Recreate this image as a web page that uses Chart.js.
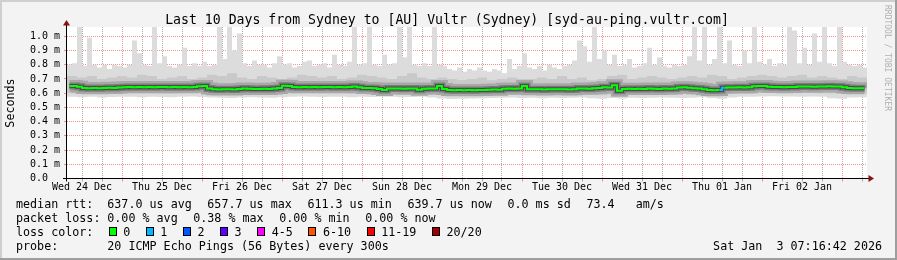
<!DOCTYPE html>
<html>
<head>
<meta charset="utf-8">
<script src="https://cdn.jsdelivr.net/npm/chart.js@4/dist/chart.umd.min.js"></script>
<style>
    html, body { margin: 0; padding: 0; background: #f3f3f3; }
    canvas { display: block; }
</style>
</head>
<body>
<canvas id="smoke" width="897" height="260"></canvas>
<script>
'use strict';

/**
 * Data (hours counted from Wed 24 Dec 00:00)
 */

const firstHour = 7.5,
    lastHour = 247.5,
    colStep = 1.5,
    bandStep = 3;

const dayLabels = ['Wed 24 Dec', 'Thu 25 Dec', 'Fri 26 Dec', 'Sat 27 Dec', 'Sun 28 Dec',
    'Mon 29 Dec', 'Tue 30 Dec', 'Wed 31 Dec', 'Thu 01 Jan', 'Fri 02 Jan'];

const yTicks = [0, 0.1, 0.2, 0.3, 0.4, 0.5, 0.6, 0.7, 0.8, 0.9, 1.0];

// slowest ping of each column (ms)
const maxPing = [
    0.80, 0.81, 1.07, 0.79, 0.99, 0.80, 0.78, 0.80, 0.77, 0.80, 0.79,
    0.78, 0.80, 0.97, 0.88, 0.80, 0.79, 1.07, 0.81, 0.86, 0.79, 0.78, 0.80, 0.92, 0.79, 0.81, 0.79,
    0.82, 0.79, 0.80, 1.07, 0.84, 1.07, 0.90, 1.02, 0.81, 0.79, 0.83, 0.80, 0.80, 0.78, 0.81, 0.86,
    0.80, 0.81, 0.78, 0.79, 0.82, 0.83, 0.79, 0.80, 0.81, 0.78, 0.87, 0.80, 0.79, 0.82, 1.07, 0.80,
    0.81, 1.07, 0.80, 0.79, 0.87, 0.80, 0.81, 1.07, 0.85, 1.07, 0.80, 0.79, 0.81, 0.79, 1.07, 0.80,
    0.79, 0.77, 0.76, 0.78, 0.75, 0.77, 0.76, 0.78, 0.76, 0.75, 0.77, 0.76, 0.74, 0.84, 0.77, 0.79,
    0.88, 0.78, 0.77, 0.79, 0.76, 0.80, 0.78, 0.77, 0.79, 0.80, 0.83, 0.97, 0.93, 0.82, 1.07, 0.84,
    0.90, 0.80, 0.87, 0.79, 0.80, 0.84, 0.78, 0.79, 0.81, 0.92, 0.80, 0.85, 0.79, 0.78, 0.80, 0.79,
    0.80, 0.86, 1.07, 0.83, 1.07, 0.80, 0.84, 1.07, 0.81, 0.97, 0.80, 0.79, 0.90, 0.81, 1.07, 0.82,
    0.80, 0.84, 0.79, 0.81, 0.80, 1.07, 1.04, 0.81, 0.92, 0.80, 1.02, 0.82, 1.07, 0.81, 0.79, 1.07,
    0.82, 0.80, 0.79, 0.80, 0.78
];

// median rtt of each column (ms)
const medianRtt = [
    0.650, 0.650, 0.645, 0.636, 0.634, 0.636, 0.634, 0.636, 0.638, 0.636, 0.640,
    0.642, 0.643, 0.641, 0.643, 0.642, 0.643, 0.641, 0.643, 0.644, 0.642, 0.643, 0.641, 0.643, 0.642, 0.644, 0.648,
    0.650, 0.632, 0.627, 0.626, 0.627, 0.628, 0.626, 0.630, 0.632, 0.631, 0.630, 0.629, 0.631, 0.630, 0.632, 0.636,
    0.652, 0.650, 0.644, 0.642, 0.643, 0.641, 0.643, 0.642, 0.643, 0.644, 0.642, 0.643, 0.641, 0.644, 0.646, 0.642,
    0.637, 0.636, 0.635, 0.630, 0.623, 0.633, 0.632, 0.633, 0.631, 0.632, 0.633, 0.624, 0.631, 0.632, 0.633, 0.650,
    0.630, 0.622, 0.621, 0.622, 0.620, 0.622, 0.621, 0.622, 0.623, 0.624, 0.625, 0.624, 0.631, 0.632, 0.631, 0.632,
    0.650, 0.627, 0.628, 0.627, 0.626, 0.628, 0.627, 0.628, 0.627, 0.626, 0.628, 0.632, 0.633, 0.631, 0.634, 0.636,
    0.642, 0.640, 0.655, 0.617, 0.630, 0.631, 0.629, 0.631, 0.630, 0.632, 0.631, 0.630, 0.632, 0.631, 0.633, 0.640,
    0.641, 0.638, 0.634, 0.633, 0.628, 0.622, 0.621, 0.623, 0.638, 0.640, 0.639, 0.641, 0.640, 0.642, 0.648, 0.650,
    0.650, 0.645, 0.643, 0.644, 0.642, 0.643, 0.644, 0.647, 0.646, 0.647, 0.645, 0.646, 0.647, 0.648, 0.646, 0.647,
    0.641, 0.636, 0.634, 0.635, 0.634
];

// upper / lower edge of the dense smoke, and fastest ping (3 h bands, ms)
const bandTop = [
    0.72, 0.71, 0.72, 0.70, 0.71, 0.72, 0.71, 0.73, 0.72, 0.70, 0.71, 0.72, 0.70, 0.71,
    0.73, 0.72, 0.74, 0.71, 0.70, 0.72, 0.71, 0.70, 0.71, 0.73, 0.72, 0.71, 0.72, 0.70,
    0.71, 0.73, 0.72, 0.71, 0.70, 0.72, 0.74, 0.71, 0.70, 0.71, 0.70, 0.69, 0.70, 0.71,
    0.69, 0.70, 0.71, 0.70, 0.70, 0.71, 0.70, 0.72, 0.70, 0.71, 0.69, 0.70, 0.72, 0.73,
    0.70, 0.71, 0.72, 0.71, 0.70, 0.71, 0.72, 0.71, 0.73, 0.72, 0.70, 0.71, 0.72, 0.73,
    0.72, 0.71, 0.72, 0.73, 0.71, 0.72, 0.71, 0.70, 0.72, 0.71
];

const bandLow = [
    0.600, 0.598, 0.600, 0.597, 0.599, 0.600, 0.601, 0.599, 0.600, 0.598, 0.597, 0.600, 0.601, 0.599,
    0.592, 0.590, 0.589, 0.591, 0.592, 0.590, 0.591, 0.595, 0.600, 0.602, 0.601, 0.599, 0.600, 0.601,
    0.598, 0.600, 0.596, 0.597, 0.596, 0.594, 0.595, 0.596, 0.593, 0.588, 0.584, 0.585, 0.586, 0.587,
    0.586, 0.588, 0.590, 0.589, 0.590, 0.589, 0.591, 0.590, 0.589, 0.591, 0.590, 0.586, 0.590, 0.588,
    0.592, 0.591, 0.592, 0.593, 0.592, 0.594, 0.595, 0.593, 0.588, 0.586, 0.595, 0.599, 0.600, 0.602,
    0.603, 0.602, 0.603, 0.601, 0.602, 0.600, 0.597, 0.595, 0.598, 0.597
];

const minPing = [
    0.575, 0.572, 0.574, 0.570, 0.573, 0.575, 0.574, 0.572, 0.575, 0.573, 0.571, 0.574, 0.576, 0.573,
    0.570, 0.568, 0.566, 0.569, 0.571, 0.570, 0.568, 0.572, 0.574, 0.576, 0.575, 0.573, 0.574, 0.575,
    0.572, 0.574, 0.573, 0.575, 0.574, 0.571, 0.573, 0.574, 0.570, 0.562, 0.558, 0.560, 0.563, 0.565,
    0.566, 0.568, 0.570, 0.566, 0.567, 0.565, 0.568, 0.566, 0.567, 0.569, 0.565, 0.560, 0.566, 0.563,
    0.568, 0.566, 0.567, 0.569, 0.568, 0.566, 0.568, 0.572, 0.566, 0.560, 0.570, 0.574, 0.575, 0.576,
    0.578, 0.576, 0.577, 0.575, 0.576, 0.574, 0.565, 0.560, 0.570, 0.572
];

// columns that lost packets, and how many
const lossColumns = [130];
const lossLevels = [1];

const titleText = 'Last 10 Days from Sydney to [AU] Vultr (Sydney) [syd-au-ping.vultr.com]';
const rttStats = ['637.0 us avg', '657.7 us max', '611.3 us min', '639.7 us now', '0.0 ms sd', '73.4   am/s'];
const lossStats = ['0.00 % avg', '0.38 % max', '0.00 % min', '0.00 % now'];
const lossSteps = ['0', '1', '2', '3', '4-5', '6-10', '11-19', '20/20'];
const lossColors = ['#00ff00', '#00b8ff', '#0059ff', '#5e00ff', '#ff00ff', '#ff5500', '#ff0000', '#a10000'];
const probeText = '20 ICMP Echo Pings (56 Bytes) every 300s';
const stampText = 'Sat Jan  3 07:16:42 2026';

/**
 * Chart
 */

const MONO = "'DejaVu Sans Mono', monospace";

const colHours = maxPing.map((_v, i) => firstHour + colStep * (i + 0.5));
const bandHours = bandTop.map((_v, i) => firstHour + bandStep * (i + 0.5));

const points = (xs, ys) => ys.map((y, i) => ({ x: xs[i], y: y }));
const ranges = (xs, lo, hi) => hi.map((h, i) => ({ x: xs[i], y: [lo[i], h] }));

const barStyle = {
    type: 'bar',
    grouped: false,
    barPercentage: 1,
    categoryPercentage: 1,
    borderWidth: 0,
    inflateAmount: 0
};

const smokeLine = (width, color, order) => ({
    type: 'line',
    data: points(colHours, medianRtt),
    xAxisID: 'x',
    stepped: 'middle',
    borderWidth: width,
    borderColor: color,
    borderJoinStyle: 'miter',
    pointRadius: 0,
    fill: false,
    order: order
});

const lossColorAt = (idx) => {
    const k = lossColumns.indexOf(idx);
    return k < 0 ? lossColors[0] : lossColors[lossLevels[k]];
};

const rrdDecor = {
    id: 'rrdDecor',
    beforeDraw(chart) {
        const { ctx, chartArea: a } = chart;
        ctx.save();
        ctx.fillStyle = '#f3f3f3';
        ctx.fillRect(0, 0, 897, 260);
        ctx.fillStyle = '#cfcfcf';
        ctx.fillRect(0, 0, 897, 2);
        ctx.fillRect(0, 0, 2, 260);
        ctx.fillStyle = '#9e9e9e';
        ctx.fillRect(0, 258, 897, 2);
        ctx.fillRect(895, 0, 2, 260);
        ctx.fillStyle = '#ffffff';
        ctx.fillRect(a.left, a.top, a.right - a.left, a.bottom - a.top);
        ctx.restore();
    },
    afterDraw(chart) {
        const { ctx, chartArea: a } = chart;
        const ax = a.left - 0.5,
            ay = a.bottom;

        ctx.save();

        // axes + arrows
        ctx.strokeStyle = '#000';
        ctx.lineWidth = 1;
        ctx.beginPath();
        ctx.moveTo(63, ay);
        ctx.lineTo(870, ay);
        ctx.moveTo(ax, ay + 3);
        ctx.lineTo(ax, 24);
        ctx.stroke();
        ctx.fillStyle = '#8b0f0f';
        ctx.beginPath();
        ctx.moveTo(868.5, ay - 3.5);
        ctx.lineTo(874, ay);
        ctx.lineTo(868.5, ay + 3.5);
        ctx.closePath();
        ctx.fill();
        ctx.beginPath();
        ctx.moveTo(ax - 3.5, 25.5);
        ctx.lineTo(ax, 20);
        ctx.lineTo(ax + 3.5, 25.5);
        ctx.closePath();
        ctx.fill();

        // title
        ctx.fillStyle = '#000';
        ctx.textBaseline = 'alphabetic';
        ctx.textAlign = 'center';
        ctx.font = '13.2px ' + MONO;
        ctx.fillText(titleText, 447, 24);

        // vertical axis title
        ctx.font = '11.7px ' + MONO;
        ctx.save();
        ctx.translate(13.5, 103);
        ctx.rotate(-Math.PI / 2);
        ctx.fillText('Seconds', 0, 0);
        ctx.restore();

        // legend rows
        const col2 = 107.3,
            gap = 15.6;
        ctx.textAlign = 'left';

        ctx.fillText('median rtt:', 16, 208);
        let x = col2;
        rttStats.forEach((s) => {
            ctx.fillText(s, x, 208);
            x += ctx.measureText(s).width + gap;
        });

        ctx.fillText('packet loss:', 16, 222);
        x = col2;
        lossStats.forEach((s) => {
            ctx.fillText(s, x, 222);
            x += ctx.measureText(s).width + gap;
        });

        ctx.fillText('loss color:', 16, 236);
        x = col2 + 1.4;
        lossSteps.forEach((s, i) => {
            const bx = Math.round(x);
            ctx.fillStyle = '#000';
            ctx.fillRect(bx, 227, 8, 9);
            ctx.fillStyle = lossColors[i];
            ctx.fillRect(bx + 1, 228, 6, 7);
            ctx.fillStyle = '#000';
            ctx.fillText(s, x + 14.5, 236);
            x += 14.5 + ctx.measureText(s).width + gap;
        });

        ctx.fillText('probe:', 16, 250);
        ctx.fillText(probeText, col2, 250);
        ctx.textAlign = 'right';
        ctx.fillText(stampText, 882, 250);

        // rrdtool credit
        ctx.fillStyle = '#b0b0b0';
        ctx.textAlign = 'left';
        ctx.font = '8px ' + MONO;
        ctx.translate(885, 5);
        ctx.rotate(Math.PI / 2);
        ctx.fillText('RRDTOOL / TOBI OETIKER', 0, 0);

        ctx.restore();
    }
};

const gridHours = [];
for (let h = 12; h < lastHour; h += 6) {
    gridHours.push(h);
}

// rrdtool's default major / minor grid colours
const RED_DOT = 'rgba(222, 79, 79, 0.6)',
    GRAY_DOT = 'rgba(143, 143, 143, 0.75)';

new Chart(document.getElementById('smoke'), {
    type: 'bar',
    data: {
        datasets: [
            Object.assign({}, barStyle, {
                label: 'max',
                data: points(colHours, maxPing),
                base: 0.62,
                xAxisID: 'x',
                backgroundColor: '#dcdcdc',
                order: 7
            }),
            Object.assign({}, barStyle, {
                label: 'low',
                data: ranges(bandHours, minPing, bandTop),
                xAxisID: 'x2',
                backgroundColor: '#dcdcdc',
                order: 6
            }),
            Object.assign({}, barStyle, {
                label: 'dense',
                data: ranges(bandHours, bandLow, bandTop),
                xAxisID: 'x2',
                backgroundColor: '#c9c9c9',
                order: 5
            }),
            smokeLine(12, '#a8a8a8', 4),
            smokeLine(7, '#7b7b7b', 3),
            smokeLine(4, '#4a4a4a', 2),
            Object.assign(smokeLine(2, lossColors[0], 1), {
                segment: { borderColor: (c) => lossColorAt(c.p0DataIndex) }
            })
        ]
    },
    options: {
        responsive: false,
        animation: false,
        devicePixelRatio: 1,
        events: [],
        layout: { padding: { top: 27, right: 30, bottom: 0, left: 0 } },
        plugins: {
            legend: { display: false },
            title: { display: false },
            tooltip: { enabled: false }
        },
        scales: {
            x: {
                type: 'linear',
                min: firstHour,
                max: lastHour,
                offset: false,
                z: 1,
                afterFit: (s) => { s.height = 81.5; },
                afterBuildTicks: (s) => { s.ticks = gridHours.map((h) => ({ value: h })); },
                grid: {
                    offset: false,
                    lineWidth: 1,
                    tickLength: 3,
                    color: (c) => (c.tick && c.tick.value % 24 === 0 ? RED_DOT : GRAY_DOT)
                },
                border: { display: false, dash: [1, 1] },
                ticks: {
                    autoSkip: false,
                    maxRotation: 0,
                    minRotation: 0,
                    padding: 0,
                    color: '#000',
                    font: { family: MONO, size: 10 },
                    callback: (v) => ((v - 12) % 24 === 0 ? dayLabels[(v - 12) / 24] : '')
                }
            },
            x2: {
                type: 'linear',
                min: firstHour,
                max: lastHour,
                offset: false,
                display: false,
                afterBuildTicks: (s) => { s.ticks = [{ value: firstHour }, { value: lastHour }]; }
            },
            y: {
                min: 0,
                max: 1.065,
                z: 1,
                afterFit: (s) => { s.width = 67; },
                afterBuildTicks: (s) => { s.ticks = yTicks.map((v) => ({ value: v })); },
                grid: { color: RED_DOT, lineWidth: 1, tickLength: 3 },
                border: { display: false, dash: [1, 1] },
                ticks: {
                    padding: 4,
                    color: '#000',
                    font: { family: MONO, size: 10 },
                    callback: (v) => (v === 0 ? '0.0  ' : v.toFixed(1) + ' m')
                }
            }
        }
    },
    plugins: [rrdDecor]
});
</script>
</body>
</html>
